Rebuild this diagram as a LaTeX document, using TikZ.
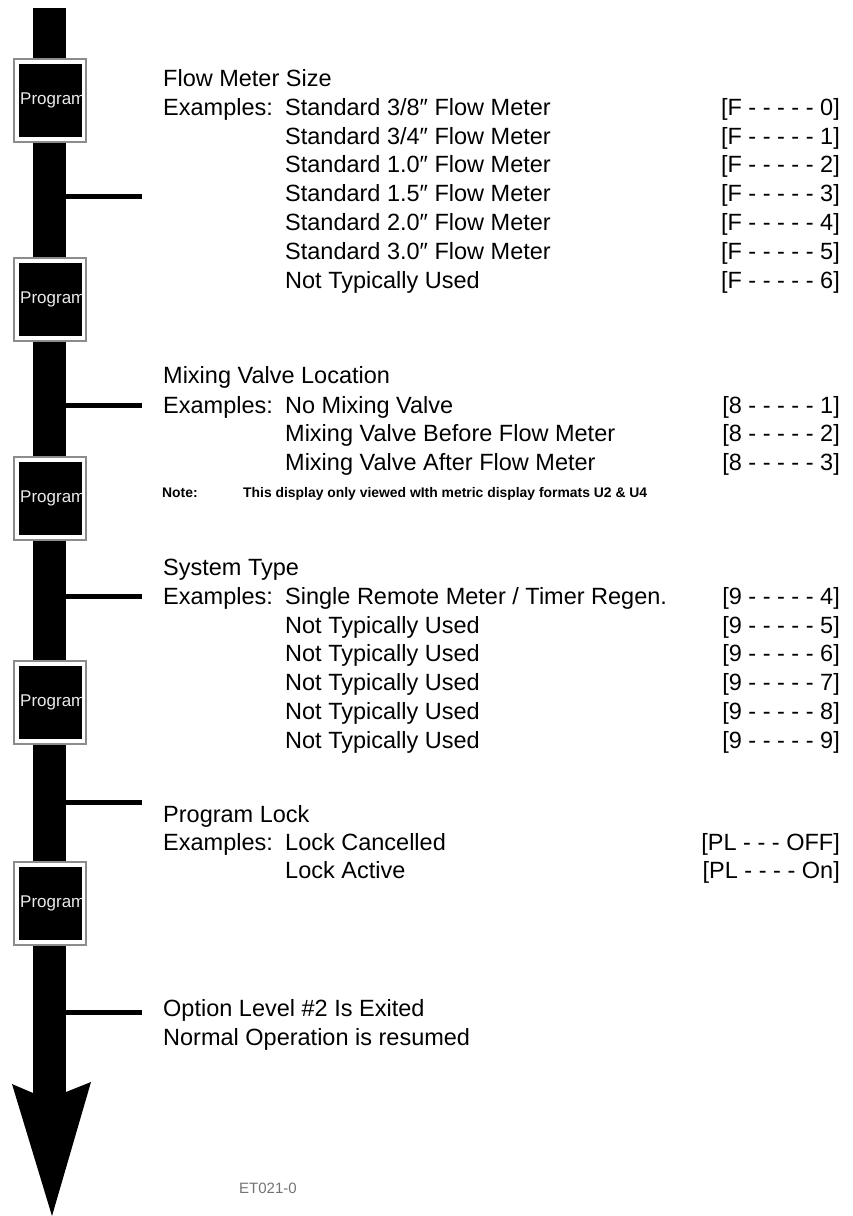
\documentclass[tikz,border=0pt]{standalone}
\usepackage{fontspec}
\setmainfont{Liberation Sans}
\begin{document}
\begin{tikzpicture}[x=1pt,y=-1pt,
  txt/.style={anchor=base west, inner sep=0pt, font=\fontsize{23.5}{26}\selectfont},
  code/.style={anchor=base east, inner sep=0pt, font=\fontsize{23.5}{26}\selectfont},
  notetxt/.style={anchor=base west, inner sep=0pt, font=\bfseries\fontsize{13.9}{16}\selectfont},
  progtext/.style={anchor=west, inner sep=0pt, text=white!92!black, font=\fontsize{17}{19}\selectfont},
  progframe/.style={draw=black!45, line width=1.6pt, fill=white},
  tickline/.style={line width=5pt},
  idtxt/.style={inner sep=0pt, text=black!55, font=\fontsize{15}{17}\selectfont},
]
\useasboundingbox (0,0) rectangle (853,1216);
% shaft and arrow head
\fill (33,8) rectangle (66,1095);
\fill (33,1093) -- (12,1084) -- (52,1216) -- (91,1082) -- (66,1092) -- cycle;
% ticks
\foreach \n/\ty in {1/196, 2/405, 3/596, 4/802, 5/1012} {
  \coordinate (s\n) at (64,\ty);
  \coordinate (e\n) at (142,\ty);
  \draw[tickline] (s\n) -- (e\n);
}
% program buttons
\foreach \n/\yt in {1/59, 2/258, 3/457, 4/661, 5/862} {
  \draw[progframe] (14,\yt) rectangle (86,\yt+83);
  \fill (18.5,\yt+5) rectangle (81.5,\yt+78);
  \begin{scope}
    \clip (18.5,\yt+5) rectangle (81.5,\yt+78);
    \node[progtext] (p\n) at (20,\yt+41.5) {Program};
  \end{scope}
}
% Flow meter size
\node[txt] (fh) at (163,86) {Flow Meter Size};
\node[txt] (fx) at (163,115) {Examples:};
\node[txt] (f0) at (285,115) {Standard 3/8″ Flow Meter};
\node[txt] (f1) at (285,144) {Standard 3/4″ Flow Meter};
\node[txt] (f2) at (285,172) {Standard 1.0″ Flow Meter};
\node[txt] (f3) at (285,201) {Standard 1.5″ Flow Meter};
\node[txt] (f4) at (285,230) {Standard 2.0″ Flow Meter};
\node[txt] (f5) at (285,259) {Standard 3.0″ Flow Meter};
\node[txt] (f6) at (285,288) {Not Typically Used};
\node[code] (c0) at (840,115) {[F - - - - - 0]};
\node[code] (c1) at (840,144) {[F - - - - - 1]};
\node[code] (c2) at (840,172) {[F - - - - - 2]};
\node[code] (c3) at (840,201) {[F - - - - - 3]};
\node[code] (c4) at (840,230) {[F - - - - - 4]};
\node[code] (c5) at (840,259) {[F - - - - - 5]};
\node[code] (c6) at (840,288) {[F - - - - - 6]};
% Mixing valve
\node[txt] (mh) at (163,383) {Mixing Valve Location};
\node[txt] (mx) at (163,413) {Examples:};
\node[txt] (m1) at (285,413) {No Mixing Valve};
\node[txt] (m2) at (285,441) {Mixing Valve Before Flow Meter};
\node[txt] (m3) at (285,470) {Mixing Valve After Flow Meter};
\node[code] (mc1) at (840,413) {[8 - - - - - 1]};
\node[code] (mc2) at (840,441) {[8 - - - - - 2]};
\node[code] (mc3) at (840,470) {[8 - - - - - 3]};
\node[notetxt] (nl) at (162,497) {Note:};
\node[notetxt] (nt) at (243,497) {This display only viewed wIth metric display formats U2 \& U4};
% System type
\node[txt] (sh) at (163,575) {System Type};
\node[txt] (sx) at (163,604) {Examples:};
\node[txt] (s4) at (285,604) {Single Remote Meter / Timer Regen.};
\node[txt] (s5) at (285,633) {Not Typically Used};
\node[txt] (s6) at (285,661) {Not Typically Used};
\node[txt] (s7) at (285,690) {Not Typically Used};
\node[txt] (s8) at (285,719) {Not Typically Used};
\node[txt] (s9) at (285,748) {Not Typically Used};
\node[code] (sc4) at (840,604) {[9 - - - - - 4]};
\node[code] (sc5) at (840,633) {[9 - - - - - 5]};
\node[code] (sc6) at (840,661) {[9 - - - - - 6]};
\node[code] (sc7) at (840,690) {[9 - - - - - 7]};
\node[code] (sc8) at (840,719) {[9 - - - - - 8]};
\node[code] (sc9) at (840,748) {[9 - - - - - 9]};
% Program lock
\node[txt] (lh) at (163,822) {Program Lock};
\node[txt] (lx) at (163,850) {Examples:};
\node[txt] (l1) at (285,850) {Lock Cancelled};
\node[txt] (l2) at (285,878) {Lock Active};
\node[code] (lc1) at (840,850) {[PL - - - OFF]};
\node[code] (lc2) at (840,878) {[PL - - - - On]};
% exit
\node[txt] (o1) at (163,1016) {Option Level \#2 Is Exited};
\node[txt] (o2) at (163,1045) {Normal Operation is resumed};
% figure id
\node[idtxt] (id) at (268,1188) {ET021-0};
\end{tikzpicture}
\end{document}
